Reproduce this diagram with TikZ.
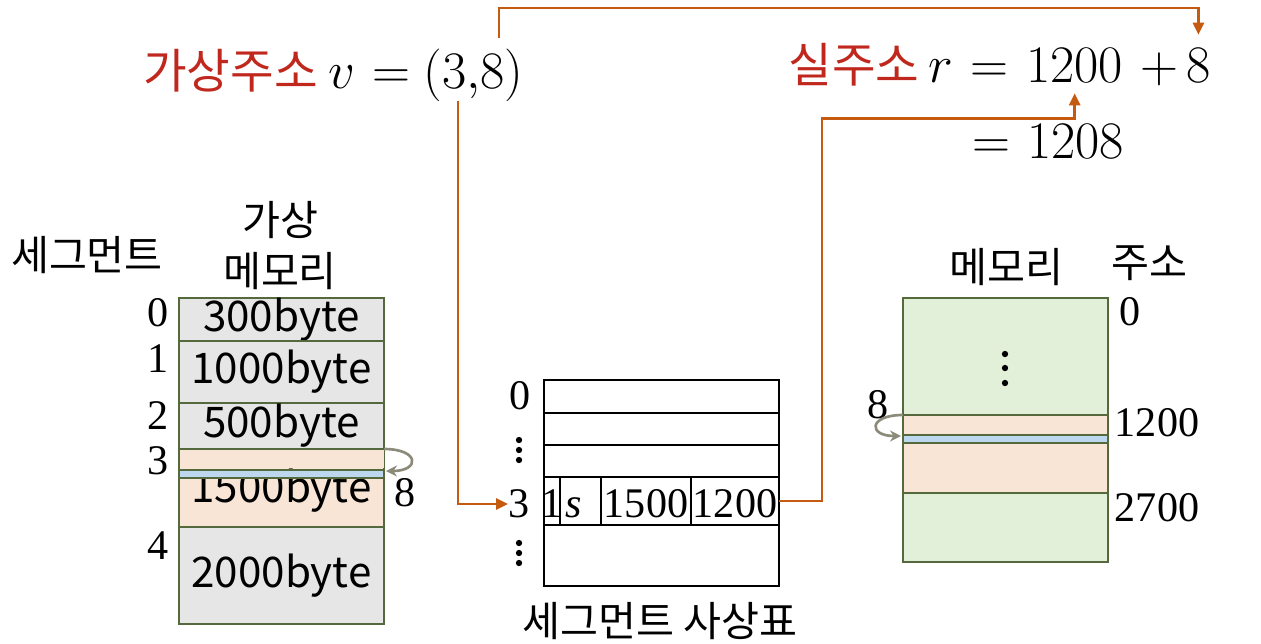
\RequirePackage{fix-cm}
\documentclass[tikz,border=0pt]{standalone}
\usepackage{fontspec}
\setmainfont{Liberation Serif}
\newfontfamily\kr{Noto Sans CJK KR}
\usetikzlibrary{arrows.meta,positioning}
\definecolor{addrred}{RGB}{192,40,30}
\definecolor{linkbrown}{RGB}{197,90,17}
\definecolor{memline}{RGB}{84,106,60}
\definecolor{segfill}{RGB}{231,230,230}
\definecolor{peach}{RGB}{248,229,214}
\definecolor{stripblue}{RGB}{189,215,238}
\definecolor{memgreen}{RGB}{226,239,217}
\definecolor{loopgray}{RGB}{140,138,120}
\tikzset{
  krlabel/.style={font=\kr\fontsize{23.5}{29}\selectfont, inner sep=0pt},
  addrlabel/.style={font=\kr\fontsize{27}{30}\selectfont, text=addrred, inner sep=0pt},
  mathlabel/.style={font=\fontsize{30}{34}\selectfont, inner sep=0pt},
  bytelabel/.style={font=\kr\fontsize{24}{28}\selectfont, inner sep=0pt},
  numlabel/.style={font=\fontsize{24}{28}\selectfont, inner sep=0pt},
  cellnum/.style={font=\fontsize{24}{28}\selectfont, inner sep=0pt},
  memrow/.style={draw=memline, line width=1pt},
  tabrow/.style={draw=black, line width=1.6pt},
  link/.style={draw=linkbrown, line width=1.5pt, -{Triangle[length=2.4mm,width=2.2mm]}},
  offloop/.style={draw=loopgray, line width=1.5pt, -{Stealth[length=2.2mm,width=2.2mm]}},
}
\begin{document}
\begin{tikzpicture}[x=0.02cm, y=-0.02cm]
  \useasboundingbox (0,0) rectangle (1261,643);

  % virtual and real address
  \node[addrlabel, anchor=base west] (vtxt) at (143,88) {가상주소};
  \node[mathlabel, anchor=base west] (vvar) at (328,88) {$v$};
  \node[mathlabel, anchor=base west] (veq) at (372,88) {$=$};
  \node[mathlabel, anchor=base west] (vpair) at (423,88) {$(3{,}8)$};
  \node[addrlabel, anchor=base west] (rtxt) at (788,82) {실주소};
  \node[mathlabel, anchor=base west] (rvar) at (928,82) {$r$};
  \node[mathlabel, anchor=base west] (req) at (970,82) {$=$};
  \node[mathlabel, anchor=base west] (rbase) at (1026,82) {$1200$};
  \node[mathlabel, anchor=base west] (rplus) at (1140,82) {$+$};
  \node[mathlabel, anchor=base west] (roff) at (1186,82) {$8$};
  \node[mathlabel, anchor=base west] (req2) at (972,158) {$=$};
  \node[mathlabel, anchor=base west] (rsum) at (1027,158) {$1208$};

  % virtual memory
  \node[krlabel] (seghead) at (87,255) {세그먼트};
  \node[krlabel, align=center] (vmemhead) at (280,246) {가상\\메모리};
  \foreach \top/\bot/\txt [count=\i] in {298/341/300byte, 341/403/1000byte, 403/449/500byte, 527/624/2000byte} {
    \draw[memrow, fill=segfill] (179,\top) rectangle (384,\bot);
    \node[bytelabel] (vseg\i) at (281.5,{(\top+\bot)/2}) {\txt};
  }
  \draw[memrow, fill=peach] (179,449) rectangle (384,527);
  \node[bytelabel] (vseg3) at (281.5,491) {1500byte};
  \fill[peach] (179.5,449.5) rectangle (383.5,468);
  \draw[memrow, fill=stripblue] (179,470) rectangle (384,478);
  \foreach \i/\y in {0/313,1/359,2/416,3/461,4/546}
    \node[numlabel] (vidx\i) at (158,\y) {\i};
  \coordinate (vtop3) at (384,449);
  \coordinate (vstrip) at (386,471);
  \draw[offloop] (vtop3) .. controls (420,449) and (420,471) .. (vstrip);
  \node[numlabel] (voff) at (405,493) {8};

  % segment table
  \foreach \top/\bot in {380/413, 413/445, 445/477, 477/525, 525/586}
    \draw[tabrow] (544,\top) rectangle (779,\bot);
  \foreach \x in {560,601,691}
    \draw[tabrow] (\x,477) -- (\x,525);
  \node[cellnum, anchor=base] (cvalid) at (552,517) {1};
  \node[cellnum, anchor=base] (cprot) at (574,517) {\textit{s}};
  \node[cellnum, anchor=base] (clen) at (646,517) {1500};
  \node[cellnum, anchor=base] (cbase) at (735,517) {1200};
  \node[cellnum] (trow0) at (520,396) {0};
  \node[cellnum] (trow3) at (519,504) {3};
  \foreach \y in {440,450,460,543,553,563}
    \fill (519,\y) circle[radius=1.8pt];
  \coordinate (tabout) at (779,501);
  \node[krlabel] (tabcap) at (660,621) {세그먼트 사상표};

  % real memory
  \node[krlabel] (mhead) at (1006,267) {메모리};
  \node[krlabel] (ahead) at (1149,263) {주소};
  \draw[memrow, fill=memgreen] (903,298) rectangle (1108,415);
  \draw[memrow, fill=peach] (903,415) rectangle (1108,435);
  \draw[memrow, fill=stripblue] (903,435) rectangle (1108,443);
  \draw[memrow, fill=peach] (903,443) rectangle (1108,493);
  \draw[memrow, fill=memgreen] (903,493) rectangle (1108,562);
  \foreach \y in {354,368,383}
    \fill (1005,\y) circle[radius=1.8pt];
  \node[numlabel] (maddr0) at (1130,312) {0};
  \node[numlabel] (maddr1) at (1157,423) {1200};
  \node[numlabel] (maddr2) at (1157,508) {2700};
  \node[numlabel] (moff) at (878,405) {8};
  \coordinate (mtop) at (903,415);
  \coordinate (mstrip) at (901,436);
  \draw[offloop] (mtop) .. controls (868,415) and (868,436) .. (mstrip);

  % links
  \draw[link] ([xshift=0.51cm,yshift=0.2cm]vpair.north) -- ++(0,0.6cm) -| ([yshift=0.26cm]roff.north);
  \draw[link] ([xshift=-0.31cm]vpair.south) |- (trow3.west);
  \draw[link] (tabout) -- ++(0.86cm,0) |- ([yshift=-0.72cm]rbase.south) -- ([yshift=-0.22cm]rbase.south);
\end{tikzpicture}
\end{document}
